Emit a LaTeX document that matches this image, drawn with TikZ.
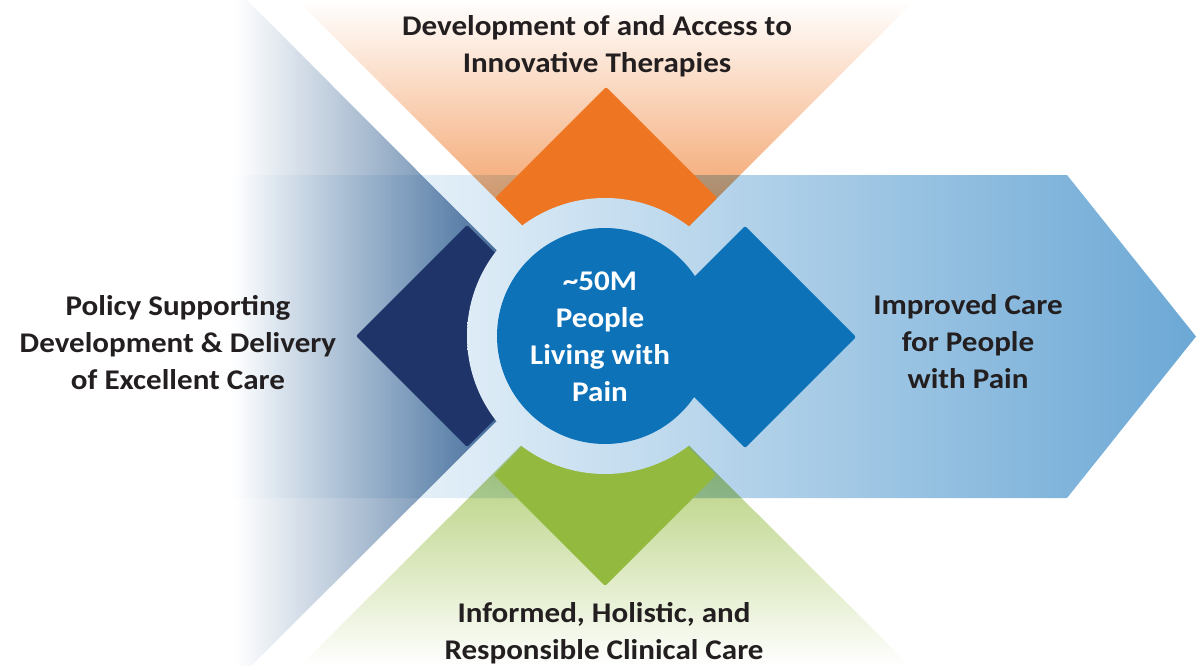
\documentclass[tikz,border=0pt]{standalone}
\usepackage{fontspec}
\setmainfont{Carlito}[FakeStretch=1.09]

\definecolor{txt}{RGB}{35,31,32}
\definecolor{orangeD}{RGB}{238,118,35}
\definecolor{navyD}{RGB}{31,52,104}
\definecolor{greenD}{RGB}{147,186,62}
\definecolor{blueD}{RGB}{14,114,185}
\definecolor{navyglow}{RGB}{28,78,133}
\definecolor{bandA}{RGB}{220,235,246}
\definecolor{bandB}{RGB}{108,168,213}

% left-to-right fade of the arrow band
\pgfdeclarehorizontalshading{bandshade}{100bp}{color(0bp)=(white); color(25bp)=(white);
  color(31bp)=(white!50!bandA); color(38bp)=(bandA); color(75bp)=(bandB); color(100bp)=(bandB)}

\begin{document}
\begin{tikzpicture}[x=1pt,y=-1pt,
	lbl/.style={align=center,text=txt,anchor=base,
		font={\fontsize{28.5}{37}\selectfont\bfseries}},
	tile/.style={rounded corners=2pt}]
\useasboundingbox (0,0) rectangle (1196,666);
\coordinate (c) at (605,336);

% arrow band
\coordinate (b1) at (225,175);
\coordinate (b2) at (1067,175);
\coordinate (b3) at (1196,336.5);
\coordinate (b4) at (1067,498);
\coordinate (b5) at (225,498);
\shade[shading=bandshade] (b1) -- (b2) -- (b3) -- (b4) -- (b5) -- cycle;

% glows
\begin{scope}[blend mode=multiply]
	\shade[left color=white,right color=navyglow]
		(235,0) -- (247,0) -- (582,336) -- (251,666) -- (235,666) -- cycle;
	\shade[top color=white,bottom color=orangeD] (297,0) -- (915,0) -- (606,309) -- cycle;
	\shade[top color=greenD,bottom color=white] (300,666) -- (910,666) -- (605,362) -- cycle;
\end{scope}

% the three diamonds
\foreach \x/\y/\col in {606/198/orangeD, 467/336/navyD, 605/475/greenD}
	\fill[\col,tile] (\x-111,\y) -- (\x,\y-111) -- (\x+111,\y) -- (\x,\y+111) -- cycle;

% ring
\begin{scope}
	\clip (c) circle (138);
	\shade[shading=bandshade] (b1) -- (b2) -- (b3) -- (b4) -- (b5) -- cycle;
\end{scope}

% hub
\fill[blueD] (c) circle (108);
\fill[blueD,tile] (634,337) -- (745,226) -- (856,337) -- (745,448) -- cycle;

\node[lbl] (therapies) at (597,72.7) {Development of and Access to\\Innovative Therapies};
\node[lbl] (policy) at (178,389) {Policy Supporting\\Development \& Delivery\\of Excellent Care};
\node[lbl] (improved) at (968,388) {Improved Care\\for People\\with Pain};
\node[lbl] (clinical) at (604,659) {Informed, Holistic, and\\Responsible Clinical Care};
\node[lbl,text=white] (people) at (600,401.7) {\textasciitilde50M\\People\\Living with\\Pain};
\end{tikzpicture}
\end{document}
